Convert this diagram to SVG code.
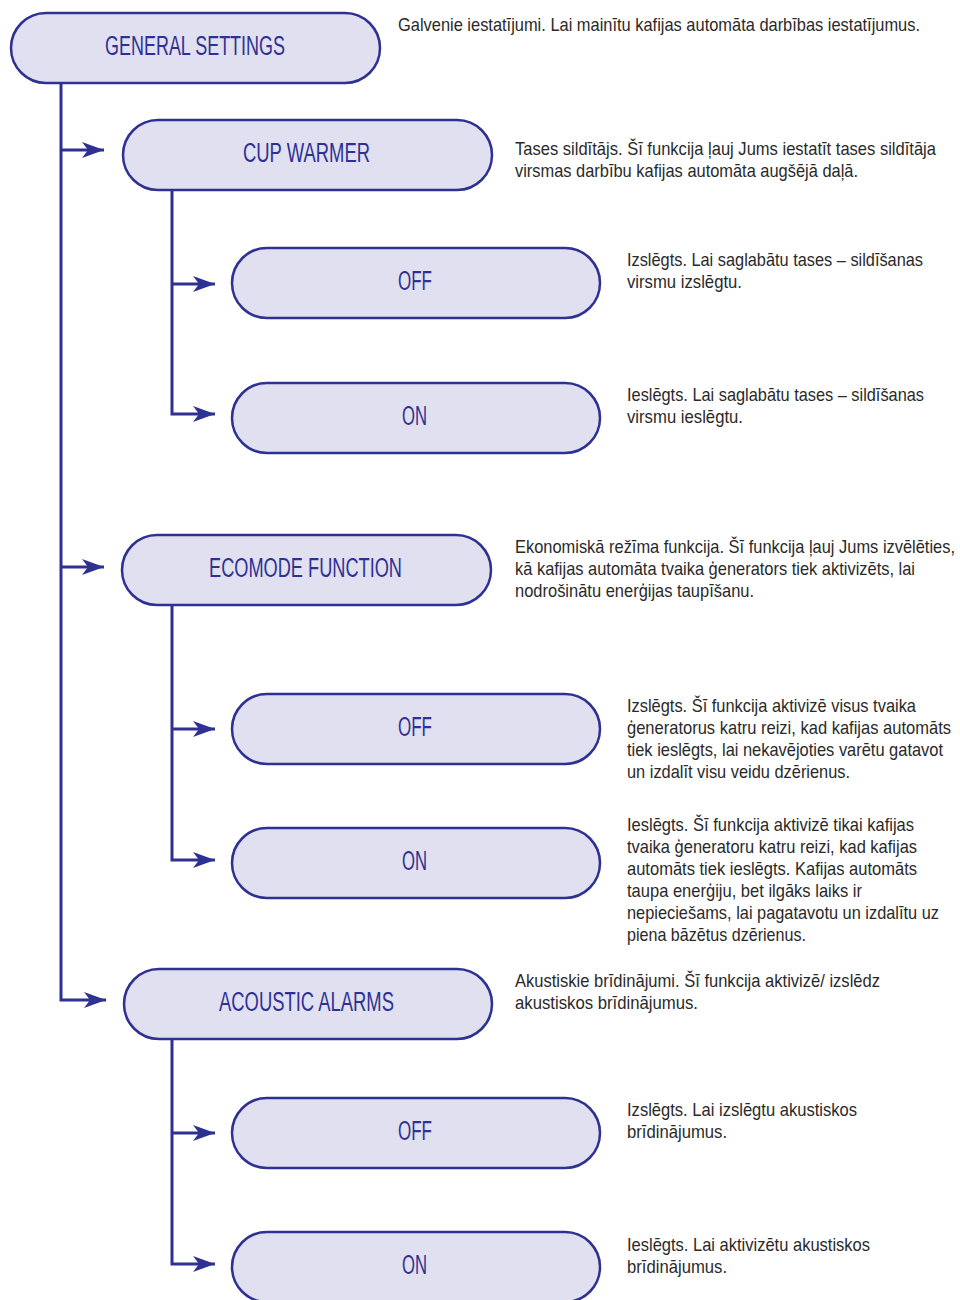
<svg xmlns="http://www.w3.org/2000/svg" width="960" height="1300" viewBox="0 0 960 1300">
<style>
.node rect{fill:#e0e0f0;stroke:#2e3192;stroke-width:2.5}
.lbl{font-family:"Liberation Sans Narrow","Liberation Sans",Arial,sans-serif;font-size:27px;fill:#2e3192;text-anchor:start}
.desc{font-family:"Liberation Sans",Arial,sans-serif;font-size:18px;fill:#2a2a2a}
.conn path{fill:none;stroke:#2e3192;stroke-width:3}
</style>
<defs>
<marker id="arr" markerUnits="userSpaceOnUse" markerWidth="26" markerHeight="20" viewBox="-24 -10 26 20" refX="0" refY="0" orient="auto">
<path d="M0,0 L-22,-8 L-16,0 L-22,8 Z" fill="#2e3192"/>
</marker>
</defs>
<rect width="960" height="1300" fill="#ffffff"/>
<g id="connectors" class="conn">
<path d="M61,83 V1000 H106" marker-end="url(#arr)"/>
<path d="M61,150 H104" marker-end="url(#arr)"/>
<path d="M61,567 H104" marker-end="url(#arr)"/>
<path d="M172,190 V414 H215" marker-end="url(#arr)"/>
<path d="M172,284 H215" marker-end="url(#arr)"/>
<path d="M172,605 V860 H215" marker-end="url(#arr)"/>
<path d="M172,729 H215" marker-end="url(#arr)"/>
<path d="M172,1039 V1264 H215" marker-end="url(#arr)"/>
<path d="M172,1133 H215" marker-end="url(#arr)"/>
</g>
<g id="general-settings" class="node">
<rect x="11" y="13" width="369" height="70" rx="35"/>
<text class="lbl" x="105" y="55" textLength="180" lengthAdjust="spacingAndGlyphs">GENERAL SETTINGS</text>
</g>
<g id="cup-warmer" class="node">
<rect x="123" y="120" width="369" height="70" rx="35"/>
<text class="lbl" x="243" y="162" textLength="127" lengthAdjust="spacingAndGlyphs">CUP WARMER</text>
</g>
<g id="cup-warmer-off" class="node">
<rect x="232" y="248" width="368" height="70" rx="35"/>
<text class="lbl" x="398" y="290" textLength="34" lengthAdjust="spacingAndGlyphs">OFF</text>
</g>
<g id="cup-warmer-on" class="node">
<rect x="232" y="383" width="368" height="70" rx="35"/>
<text class="lbl" x="402" y="425" textLength="25" lengthAdjust="spacingAndGlyphs">ON</text>
</g>
<g id="ecomode" class="node">
<rect x="122" y="535" width="369" height="70" rx="35"/>
<text class="lbl" x="209" y="577" textLength="193" lengthAdjust="spacingAndGlyphs">ECOMODE FUNCTION</text>
</g>
<g id="ecomode-off" class="node">
<rect x="232" y="694" width="368" height="70" rx="35"/>
<text class="lbl" x="398" y="736" textLength="34" lengthAdjust="spacingAndGlyphs">OFF</text>
</g>
<g id="ecomode-on" class="node">
<rect x="232" y="828" width="368" height="70" rx="35"/>
<text class="lbl" x="402" y="870" textLength="25" lengthAdjust="spacingAndGlyphs">ON</text>
</g>
<g id="acoustic-alarms" class="node">
<rect x="124" y="969" width="368" height="70" rx="35"/>
<text class="lbl" x="219" y="1011" textLength="175" lengthAdjust="spacingAndGlyphs">ACOUSTIC ALARMS</text>
</g>
<g id="acoustic-off" class="node">
<rect x="232" y="1098" width="368" height="70" rx="35"/>
<text class="lbl" x="398" y="1140" textLength="34" lengthAdjust="spacingAndGlyphs">OFF</text>
</g>
<g id="acoustic-on" class="node">
<rect x="232" y="1232" width="368" height="70" rx="35"/>
<text class="lbl" x="402" y="1274" textLength="25" lengthAdjust="spacingAndGlyphs">ON</text>
</g>
<g id="descriptions" class="desc">
<text transform="translate(398,31) scale(0.82,1)" textLength="636.6" lengthAdjust="spacingAndGlyphs">Galvenie iestatījumi. Lai mainītu kafijas automāta darbības iestatījumus.</text>
<text transform="translate(515,155) scale(0.82,1)" textLength="513.4" lengthAdjust="spacingAndGlyphs">Tases sildītājs. Šī funkcija ļauj Jums iestatīt tases sildītāja</text>
<text transform="translate(515,177) scale(0.82,1)" textLength="418.3" lengthAdjust="spacingAndGlyphs">virsmas darbību kafijas automāta augšējā daļā.</text>
<text transform="translate(627,266) scale(0.82,1)" textLength="361" lengthAdjust="spacingAndGlyphs">Izslēgts. Lai saglabātu tases – sildīšanas</text>
<text transform="translate(627,288) scale(0.82,1)" textLength="140.2" lengthAdjust="spacingAndGlyphs">virsmu izslēgtu.</text>
<text transform="translate(627,401) scale(0.82,1)" textLength="362.2" lengthAdjust="spacingAndGlyphs">Ieslēgts. Lai saglabātu tases – sildīšanas</text>
<text transform="translate(627,423) scale(0.82,1)" textLength="141.5" lengthAdjust="spacingAndGlyphs">virsmu ieslēgtu.</text>
<text transform="translate(515,553) scale(0.82,1)" textLength="536.6" lengthAdjust="spacingAndGlyphs">Ekonomiskā režīma funkcija. Šī funkcija ļauj Jums izvēlēties,</text>
<text transform="translate(515,575) scale(0.82,1)" textLength="487.8" lengthAdjust="spacingAndGlyphs">kā kafijas automāta tvaika ģenerators tiek aktivizēts, lai</text>
<text transform="translate(515,597) scale(0.82,1)" textLength="291.5" lengthAdjust="spacingAndGlyphs">nodrošinātu enerģijas taupīšanu.</text>
<text transform="translate(627,712) scale(0.82,1)" textLength="352.4" lengthAdjust="spacingAndGlyphs">Izslēgts. Šī funkcija aktivizē visus tvaika</text>
<text transform="translate(627,734) scale(0.82,1)" textLength="395.1" lengthAdjust="spacingAndGlyphs">ģeneratorus katru reizi, kad kafijas automāts</text>
<text transform="translate(627,756) scale(0.82,1)" textLength="385.4" lengthAdjust="spacingAndGlyphs">tiek ieslēgts, lai nekavējoties varētu gatavot</text>
<text transform="translate(627,778) scale(0.82,1)" textLength="272" lengthAdjust="spacingAndGlyphs">un izdalīt visu veidu dzērienus.</text>
<text transform="translate(627,831) scale(0.82,1)" textLength="350" lengthAdjust="spacingAndGlyphs">Ieslēgts. Šī funkcija aktivizē tikai kafijas</text>
<text transform="translate(627,853) scale(0.82,1)" textLength="353.7" lengthAdjust="spacingAndGlyphs">tvaika ģeneratoru katru reizi, kad kafijas</text>
<text transform="translate(627,875) scale(0.82,1)" textLength="353.7" lengthAdjust="spacingAndGlyphs">automāts tiek ieslēgts. Kafijas automāts</text>
<text transform="translate(627,897) scale(0.82,1)" textLength="286.6" lengthAdjust="spacingAndGlyphs">taupa enerģiju, bet ilgāks laiks ir</text>
<text transform="translate(627,919) scale(0.82,1)" textLength="380.5" lengthAdjust="spacingAndGlyphs">nepieciešams, lai pagatavotu un izdalītu uz</text>
<text transform="translate(627,941) scale(0.82,1)" textLength="218.3" lengthAdjust="spacingAndGlyphs">piena bāzētus dzērienus.</text>
<text transform="translate(515,987) scale(0.82,1)" textLength="445.1" lengthAdjust="spacingAndGlyphs">Akustiskie brīdinājumi. Šī funkcija aktivizē/ izslēdz</text>
<text transform="translate(515,1009) scale(0.82,1)" textLength="223.2" lengthAdjust="spacingAndGlyphs">akustiskos brīdinājumus.</text>
<text transform="translate(627,1116) scale(0.82,1)" textLength="280.5" lengthAdjust="spacingAndGlyphs">Izslēgts. Lai izslēgtu akustiskos</text>
<text transform="translate(627,1138) scale(0.82,1)" textLength="122" lengthAdjust="spacingAndGlyphs">brīdinājumus.</text>
<text transform="translate(627,1251) scale(0.82,1)" textLength="296.3" lengthAdjust="spacingAndGlyphs">Ieslēgts. Lai aktivizētu akustiskos</text>
<text transform="translate(627,1273) scale(0.82,1)" textLength="122" lengthAdjust="spacingAndGlyphs">brīdinājumus.</text>
</g>
</svg>
